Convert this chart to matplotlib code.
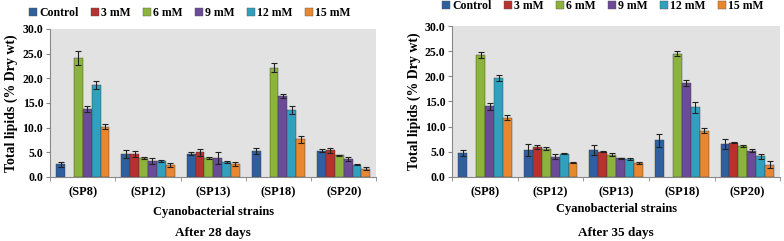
import numpy as np
import matplotlib.pyplot as plt
from matplotlib.lines import Line2D

strains = ['(SP8)', '(SP12)', '(SP13)', '(SP18)', '(SP20)']
series = ['Control', '3 mM', '6 mM', '9 mM', '12 mM', '15 mM']
colors = ['#2f5f9f', '#b7312f', '#8cb33c', '#6b4b97', '#31a0bf', '#e8872f']

# after 28 days, rows = series, cols = strains
day28 = [[2.6, 4.7, 4.7, 5.2, 5.3],
         [0.0, 4.7, 5.0, 0.0, 5.4],
         [24.1, 3.8, 3.8, 22.1, 4.4],
         [13.7, 3.2, 3.8, 16.4, 3.6],
         [18.7, 3.2, 3.1, 13.6, 2.5],
         [10.2, 2.4, 2.6, 7.6, 1.7]]
err28 = [[0.5, 0.8, 0.3, 0.6, 0.3],
         [0.0, 0.6, 0.7, 0.0, 0.5],
         [1.5, 0.15, 0.15, 0.9, 0.1],
         [0.6, 0.6, 1.2, 0.4, 0.4],
         [0.8, 0.2, 0.2, 0.8, 0.1],
         [0.5, 0.4, 0.4, 0.7, 0.3]]

# after 35 days
day35 = [[4.8, 5.3, 5.3, 7.3, 6.5],
         [0.0, 6.0, 5.0, 0.0, 6.8],
         [24.2, 5.6, 4.4, 24.5, 6.2],
         [14.0, 4.0, 3.7, 18.7, 5.2],
         [19.7, 4.6, 3.6, 13.8, 4.1],
         [11.8, 2.8, 2.8, 9.2, 2.4]]
err35 = [[0.6, 1.2, 1.0, 1.3, 1.0],
         [0.0, 0.4, 0.1, 0.0, 0.1],
         [0.6, 0.3, 0.3, 0.5, 0.2],
         [0.6, 0.5, 0.1, 0.6, 0.3],
         [0.6, 0.1, 0.2, 1.0, 0.5],
         [0.5, 0.1, 0.2, 0.5, 0.7]]

plt.rcParams['font.family'] = 'Liberation Serif'
plt.rcParams['font.weight'] = 'bold'

fig = plt.figure(figsize=(7.84, 2.41), dpi=100)
ax1 = fig.add_axes([0.064, 0.266, 0.416, 0.614])
ax2 = fig.add_axes([0.577, 0.266, 0.418, 0.626])


def draw(ax, vals, errs, title, leg_y, leg_x, xlab_y):
    x = np.arange(len(strains))
    w = 0.136
    for i, name in enumerate(series):
        v = np.array(vals[i])
        e = np.array(errs[i])
        pos = x + (i - 2.5) * w
        m = v > 0
        ax.bar(pos[m], v[m], w, color=colors[i], edgecolor='#3a3a3a', linewidth=0.3)
        ax.errorbar(pos[m], v[m], yerr=e[m], fmt='none', ecolor='#222222',
                    elinewidth=0.8, capsize=2.5, capthick=0.8)
    ax.set_facecolor('#e2e2e2')
    ax.set_xlim(-0.5, 4.5)
    ax.set_ylim(0, 30)
    ax.set_yticks(np.arange(0, 31, 5))
    ax.set_yticklabels(['%.1f' % t for t in np.arange(0, 31, 5)], fontsize=8.5, fontweight='bold')
    ax.set_xticks(x)
    ax.set_xticklabels(strains, fontsize=9, fontweight='bold')
    ax.set_xticks(np.arange(-0.5, 5, 1), minor=True)
    ax.tick_params(axis='x', which='major', length=0, pad=7)
    ax.tick_params(axis='x', which='minor', length=3, color='#888888')
    ax.tick_params(axis='y', length=3, color='#888888', pad=2)
    for s in ['top', 'right']:
        ax.spines[s].set_visible(False)
    for s in ['left', 'bottom']:
        ax.spines[s].set_color('#888888')
        ax.spines[s].set_linewidth(0.8)
    ax.set_ylabel('Total lipids (% Dry wt)', fontsize=10, fontweight='bold', labelpad=3)
    bb = ax.get_position()
    cx = (bb.x0 + bb.x1) / 2
    fig.text(cx, 1 - xlab_y / 241, 'Cyanobacterial strains', ha='center', va='center',
             fontsize=9, fontweight='bold')
    fig.text(cx, 1 - 233 / 241, title, ha='center', va='center',
             fontsize=9.5, fontweight='bold')
    handles = [Line2D([], [], marker='s', linestyle='none', markersize=5.5,
                      markerfacecolor=c, markeredgecolor='#555555', markeredgewidth=0.3)
               for c in colors]
    fig.legend(handles, series, loc='center', bbox_to_anchor=(leg_x, leg_y), ncol=6,
               frameon=False, prop={'weight': 'bold', 'size': 8.5},
               handletextpad=0.0, columnspacing=0.9, handlelength=1.0)


draw(ax1, day28, err28, 'After 28 days', 1 - 13 / 241, 189 / 784, 212)
draw(ax2, day35, err35, 'After 35 days', 1 - 6 / 241, 602 / 784, 209)

fig.savefig('out.png', dpi=100)
